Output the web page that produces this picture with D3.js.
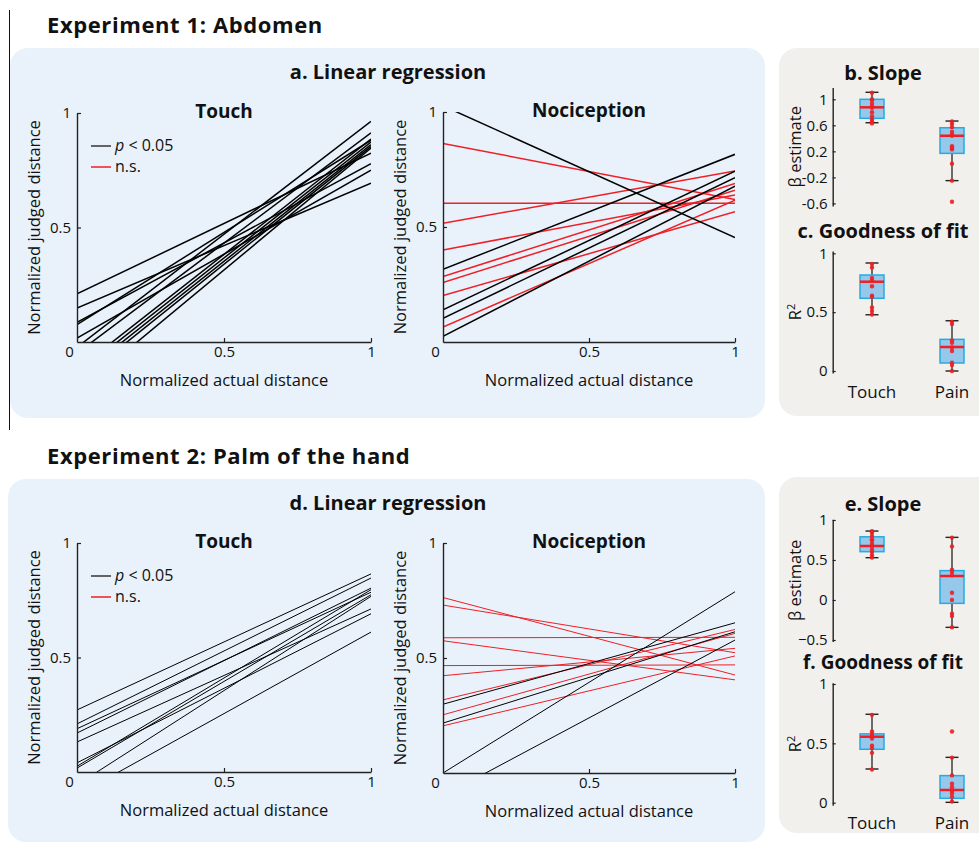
<!DOCTYPE html>
<html>
<head>
<meta charset="utf-8">
<script src="https://cdn.jsdelivr.net/npm/d3@7"></script>
<style>
  body { margin: 0; background: #fff; }
  svg { display: block; font-family: "Open Sans", Lato, sans-serif; }
</style>
</head>
<body>
<svg id="fig" width="979" height="844"></svg>
<script>
// ---- regression lines: judged distance at actual = 0 and at actual = 1, 1 = p < 0.05 ----
const exp1TouchY0 = [0.21, 0.148, 0.086, 0.076, 0.017, -0.023, -0.049, -0.121, -0.139, -0.157, -0.175, -0.218];
const exp1TouchY1 = [0.825, 0.694, 0.779, 0.881, 0.75, 0.964, 0.913, 0.886, 0.873, 0.862, 0.854, 0.847];
const exp1TouchSig = [1, 1, 1, 1, 1, 1, 1, 1, 1, 1, 1, 1];

const exp1NociY0 = [0.863, 0.603, 0.516, 0.40, 0.285, 0.259, 0.202, 0.065, 1.027, 0.316, 0.14, 0.103, 0.025];
const exp1NociY1 = [0.62, 0.603, 0.743, 0.639, 0.689, 0.66, 0.566, 0.617, 0.454, 0.816, 0.743, 0.714, 0.678];
const exp1NociSig = [0, 0, 0, 0, 0, 0, 0, 0, 1, 1, 1, 1, 1];

const exp2TouchY0 = [0.271, 0.21, 0.189, 0.17, 0.131, 0.025, 0.017, -0.056, -0.101, 0.04];
const exp2TouchY1 = [0.865, 0.847, 0.785, 0.803, 0.712, 0.796, 0.774, 0.767, 0.611, 0.691];
const exp2TouchSig = [1, 1, 1, 1, 1, 1, 1, 1, 1, 1];

const exp2NociY0 = [0.763, 0.73, 0.588, 0.575, 0.467, 0.423, 0.318, 0.253, 0.205, 0.0, -0.099, 0.299, 0.217];
const exp2NociY1 = [0.426, 0.523, 0.59, 0.405, 0.47, 0.542, 0.624, 0.607, 0.509, 0.788, 0.578, 0.653, 0.614];
const exp2NociSig = [0, 0, 0, 0, 0, 0, 0, 0, 0, 1, 1, 1, 1];

// ---- box plots: [whisker low, q1, median, q3, whisker high] per group ----
const groups = ['Touch', 'Pain'];

const exp1SlopeBox = [[0.64, 0.708, 0.877, 1.0, 1.108], [-0.25, 0.169, 0.44, 0.563, 0.666]];
const exp1SlopePts = [[1.1, 1.0, 0.98, 0.93, 0.89, 0.87, 0.8, 0.74, 0.69, 0.66, 0.63],
                      [0.66, 0.62, 0.57, 0.5, 0.46, 0.44, 0.28, 0.25, 0.23, 0.01, -0.25, -0.575]];
const exp1FitBox = [[0.478, 0.618, 0.759, 0.816, 0.918], [0.0, 0.068, 0.204, 0.269, 0.427]];
const exp1FitPts = [[0.91, 0.88, 0.79, 0.77, 0.72, 0.64, 0.63, 0.54, 0.51, 0.48],
                    [0.42, 0.40, 0.26, 0.24, 0.2, 0.17, 0.07, 0.05, 0.0]];

const exp2SlopeBox = [[0.529, 0.604, 0.675, 0.79, 0.862], [-0.342, -0.042, 0.3, 0.367, 0.783]];
const exp2SlopePts = [[0.86, 0.84, 0.8, 0.76, 0.74, 0.7, 0.67, 0.63, 0.6, 0.56, 0.53],
                      [0.78, 0.67, 0.38, 0.35, 0.31, 0.09, 0.0, -0.17, -0.2, -0.34]];
const exp2FitBox = [[0.284, 0.45, 0.556, 0.58, 0.745], [0.003, 0.037, 0.107, 0.228, 0.382]];
const exp2FitPts = [[0.74, 0.6, 0.58, 0.56, 0.54, 0.48, 0.46, 0.42, 0.28],
                    [0.6, 0.38, 0.23, 0.16, 0.13, 0.1, 0.08, 0.05, 0.01]];

const RED = '#ee1f25';
const svg = d3.select('#fig');

// Background panels
svg.append('line').attr('x1', 9.5).attr('x2', 9.5).attr('y1', 10).attr('y2', 430)
  .attr('stroke', '#111').attr('stroke-width', 1);
[[10, 48, 755, 370], [8, 479, 757, 363]].forEach(r => {
  svg.append('rect').attr('x', r[0]).attr('y', r[1]).attr('width', r[2]).attr('height', r[3])
    .attr('rx', 18).attr('fill', '#e9f2fa');
});
[[779, 48, 230, 368], [779, 477, 230, 356]].forEach(r => {
  svg.append('rect').attr('x', r[0]).attr('y', r[1]).attr('width', r[2]).attr('height', r[3])
    .attr('rx', 18).attr('fill', '#f2f0ec');
});

function text(x, y, str, size, weight, anchor) {
  return svg.append('text').attr('x', x).attr('y', y).attr('font-size', size)
    .attr('font-weight', weight || 'normal').attr('text-anchor', anchor || 'middle')
    .attr('fill', '#111').text(str);
}

// Headings
text(47, 33, 'Experiment 1: Abdomen', 22, 'bold', 'start').attr('letter-spacing', 0.6);
text(47, 464, 'Experiment 2: Palm of the hand', 22, 'bold', 'start').attr('letter-spacing', 0.6);
text(388, 79, 'a. Linear regression', 20, 'bold');
text(388, 510, 'd. Linear regression', 20, 'bold');

function styleAxis(g) {
  g.attr('font-family', null).attr('font-size', 15);
  g.selectAll('path.domain').attr('stroke', '#222').attr('stroke-width', 1.4);
  g.selectAll('.tick line').attr('stroke', '#222').attr('stroke-width', 1.2);
  g.selectAll('.tick text').attr('fill', '#111');
}

let clipCount = 0;
function regression(left, right, top, bottom, y0s, y1s, sig, title, lw, legend) {
  const x = d3.scaleLinear().domain([0, 1]).range([left, right]);
  const y = d3.scaleLinear().domain([0, 1]).range([bottom, top]);
  const id = 'clip' + (clipCount++);
  svg.append('clipPath').attr('id', id).append('rect')
    .attr('x', left).attr('y', top).attr('width', right - left).attr('height', bottom - top);

  // Draw red (n.s.) first, black on top
  const order = d3.range(y0s.length).sort((a, b) => sig[a] - sig[b]);
  svg.append('g').attr('clip-path', `url(#${id})`)
    .selectAll('line').data(order).join('line')
    .attr('x1', x(0)).attr('x2', x(1))
    .attr('y1', i => y(y0s[i])).attr('y2', i => y(y1s[i]))
    .attr('stroke', i => (sig[i] ? '#000' : RED))
    .attr('stroke-width', lw);

  const gx = svg.append('g').attr('transform', `translate(0,${bottom})`)
    .call(d3.axisBottom(x).tickValues([0, 0.5, 1]).tickSize(-4).tickSizeOuter(0)
      .tickPadding(4).tickFormat(d3.format('')));
  styleAxis(gx);
  gx.selectAll('.tick text').filter(d => d === 0).attr('dx', -8);
  gx.selectAll('.tick line').filter(d => d === 0).remove();

  const gy = svg.append('g').attr('transform', `translate(${left},0)`)
    .call(d3.axisLeft(y).tickValues([0.5, 1]).tickSize(-4).tickSizeOuter(0)
      .tickPadding(6).tickFormat(d3.format('')));
  styleAxis(gy);

  text((left + right) / 2, top + 5, title, 19, 'bold');
  text((left + right) / 2, bottom + 44, 'Normalized actual distance', 16.5);
  const cy = (top + bottom) / 2;
  svg.append('text').attr('transform', `translate(${left - 37},${cy}) rotate(-90)`)
    .attr('text-anchor', 'middle').attr('font-size', 16.5).attr('fill', '#111')
    .text('Normalized judged distance');

  if (legend) {
    const ly = top + 33;
    svg.append('line').attr('x1', left + 14).attr('x2', left + 34).attr('y1', ly).attr('y2', ly)
      .attr('stroke', '#333').attr('stroke-width', 1.5);
    const t = svg.append('text').attr('x', left + 38).attr('y', ly + 5).attr('font-size', 16).attr('fill', '#111');
    t.append('tspan').attr('font-style', 'italic').text('p');
    t.append('tspan').text(' < 0.05');
    svg.append('line').attr('x1', left + 14).attr('x2', left + 34).attr('y1', ly + 21).attr('y2', ly + 21)
      .attr('stroke', RED).attr('stroke-width', 1.5);
    svg.append('text').attr('x', left + 38).attr('y', ly + 26).attr('font-size', 16).attr('fill', '#111').text('n.s.');
  }
}

regression(77, 371, 113, 342, exp1TouchY0, exp1TouchY1, exp1TouchSig, 'Touch', 1.5, true);
regression(443, 735, 112, 342, exp1NociY0, exp1NociY1, exp1NociSig, 'Nociception', 1.5, false);
regression(77, 371, 543, 772, exp2TouchY0, exp2TouchY1, exp2TouchSig, 'Touch', 1, true);
regression(443, 735, 543, 773, exp2NociY0, exp2NociY1, exp2NociSig, 'Nociception', 1, false);

// ---- box plots ----
const bx = d3.scaleBand().domain(groups).range([832, 992]);

function boxPanel(domain, range, ticks, fmt, boxes, pts, title, titleY, titleSize, ylabel, catY) {
  const y = d3.scaleLinear().domain(domain).range(range);
  const axisX = 832.7;
  const gy = svg.append('g').attr('transform', `translate(${axisX},0)`)
    .call(d3.axisLeft(y).tickValues(ticks).tickSize(-3).tickSizeOuter(0).tickPadding(5).tickFormat(fmt));
  styleAxis(gy);

  text(883, titleY, title, titleSize, 'bold');
  svg.append('text')
    .attr('transform', `translate(${801},${(range[0] + range[1]) / 2}) rotate(-90)`)
    .attr('text-anchor', 'middle').attr('font-size', 16.5).attr('fill', '#111')
    .html(ylabel);

  const bw = 24, cw = 13;
  groups.forEach((gname, gi) => {
    const c = bx(gname) + bx.bandwidth() / 2;
    const [lo, q1, med, q3, hi] = boxes[gi];
    const g = svg.append('g');
    g.append('line').attr('x1', c).attr('x2', c).attr('y1', y(hi)).attr('y2', y(lo))
      .attr('stroke', '#333').attr('stroke-width', 1.4);
    [lo, hi].forEach(v => {
      g.append('line').attr('x1', c - cw / 2).attr('x2', c + cw / 2).attr('y1', y(v)).attr('y2', y(v))
        .attr('stroke', '#222').attr('stroke-width', 1.4);
    });
    g.append('rect').attr('x', c - bw / 2).attr('y', y(q3)).attr('width', bw).attr('height', y(q1) - y(q3))
      .attr('fill', '#95c8eb').attr('stroke', '#27aae1').attr('stroke-width', 1.5);
    g.append('line').attr('x1', c - bw / 2).attr('x2', c + bw / 2).attr('y1', y(med)).attr('y2', y(med))
      .attr('stroke', RED).attr('stroke-width', 2.5);
    g.selectAll('circle').data(pts[gi]).join('circle')
      .attr('cx', c).attr('cy', d => y(d)).attr('r', 2.2).attr('fill', RED).attr('opacity', 0.9);
    if (catY !== null) text(c, catY, gname, 17);
  });
}

const hyphenFmt = d => d3.format('')(d).replace('\u2212', '-');
const minusFmt = d => d3.format('')(d).replace('-', '\u2212');
const r2Label = 'R<tspan dy="-6" font-size="11">2</tspan>';

boxPanel([-0.64, 1.18], [206, 87.6], [-0.6, -0.2, 0.2, 0.6, 1], hyphenFmt,
  exp1SlopeBox, exp1SlopePts, 'b. Slope', 80, 20, '\u03b2 estimate', null);
boxPanel([-0.017, 1.02], [373, 251], [0, 0.5, 1], d3.format(''),
  exp1FitBox, exp1FitPts, 'c. Goodness of fit', 238, 20, r2Label, 398);
boxPanel([-0.52, 1.01], [641.6, 519.2], [-0.5, 0, 0.5, 1], minusFmt,
  exp2SlopeBox, exp2SlopePts, 'e. Slope', 511, 20, '\u03b2 estimate', null);
boxPanel([-0.022, 1.011], [805.3, 682.7], [0, 0.5, 1], d3.format(''),
  exp2FitBox, exp2FitPts, 'f. Goodness of fit', 669, 19, r2Label, 829);
</script>
</body>
</html>
